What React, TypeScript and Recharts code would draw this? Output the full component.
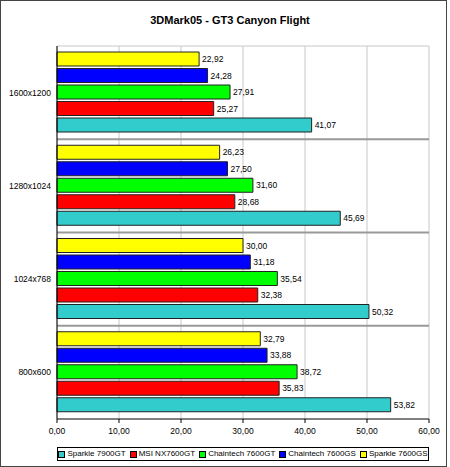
import React from "react";
import {
  BarChart,
  Bar,
  XAxis,
  YAxis,
  CartesianGrid,
  LabelList,
} from "recharts";

const categories = ["1600x1200", "1280x1024", "1024x768", "800x600"];
const sparkle7900gt = [41.07, 45.69, 50.32, 53.82];
const msi7600gt = [25.27, 28.68, 32.38, 35.83];
const chaintech7600gt = [27.91, 31.6, 35.54, 38.72];
const chaintech7600gs = [24.28, 27.5, 31.18, 33.88];
const sparkle7600gs = [22.92, 26.23, 30.0, 32.79];
const xTicks = [0, 10, 20, 30, 40, 50, 60];

// legend order (Excel draws first series at the bottom of each group)
const series = [
  { key: "s7900gt", name: "Sparkle 7900GT", color: "#33CCCC", values: sparkle7900gt },
  { key: "msi7600gt", name: "MSI NX7600GT", color: "#FF0000", values: msi7600gt },
  { key: "c7600gt", name: "Chaintech 7600GT", color: "#00FF00", values: chaintech7600gt },
  { key: "c7600gs", name: "Chaintech 7600GS", color: "#0000FF", values: chaintech7600gs },
  { key: "s7600gs", name: "Sparkle 7600GS", color: "#FFFF00", values: sparkle7600gs },
];

const data = categories.map((res, i) => {
  const row: Record<string, string | number> = { res };
  series.forEach((s) => (row[s.key] = s.values[i]));
  return row;
});

const font = '"Liberation Sans", Arial, sans-serif';
const fmt = (v: any) => Number(v).toFixed(2).replace(".", ",");

export default function App() {
  return (
    <div
      style={{
        position: "absolute",
        left: 0,
        top: 0,
        width: 450,
        height: 467,
        background: "#fff",
        fontFamily: font,
      }}
    >
      <div
        style={{
          position: "absolute",
          left: 130,
          top: 14,
          width: 200,
          textAlign: "center",
          fontWeight: "bold",
          fontSize: 11,
          color: "#000",
        }}
      >
        3DMark05 - GT3 Canyon Flight
      </div>

      <BarChart
        width={450}
        height={467}
        data={data}
        layout="vertical"
        margin={{ top: 46, right: 21, bottom: 28, left: 0 }}
        barCategoryGap={6}
        barGap={2.5}
        style={{ fontFamily: font }}
      >
        <CartesianGrid vertical horizontal={false} stroke="#c8c8c8" />
        <CartesianGrid
          vertical={false}
          stroke="#c8c8c8"
          horizontalCoordinatesGenerator={({ offset }: any) => [offset.top]}
        />
        <CartesianGrid
          vertical={false}
          stroke="#999"
          strokeWidth={2}
          horizontalCoordinatesGenerator={({ offset }: any) =>
            categories
              .slice(1)
              .map((_, i) => offset.top + (offset.height * (i + 1)) / categories.length)
          }
        />
        <XAxis
          type="number"
          domain={[0, 60]}
          ticks={xTicks}
          tickFormatter={fmt}
          height={20}
          tickSize={4}
          tickMargin={5}
          axisLine={{ stroke: "#000" }}
          tickLine={{ stroke: "#000" }}
          tick={{ fontSize: 8.5, fill: "#000" }}
        />
        <YAxis
          type="category"
          dataKey="res"
          width={57}
          tickLine={false}
          tickSize={0}
          tickMargin={6}
          axisLine={{ stroke: "#000" }}
          tick={{ fontSize: 8.5, fill: "#000" }}
        />
        {[...series].reverse().map((s) => (
          <Bar
            key={s.key}
            dataKey={s.key}
            name={s.name}
            fill={s.color}
            stroke="#222"
            strokeWidth={1}
            isAnimationActive={false}
          >
            <LabelList
              dataKey={s.key}
              position="right"
              offset={3}
              formatter={fmt}
              style={{ fontSize: 8.5, fill: "#000" }}
            />
          </Bar>
        ))}
      </BarChart>

      <div
        style={{
          position: "absolute",
          left: 57,
          top: 447,
          width: 372,
          height: 14,
          boxSizing: "border-box",
          border: "1px solid #000",
          display: "flex",
          alignItems: "center",
          justifyContent: "center",
          gap: 4,
          fontSize: 8,
          lineHeight: "10px",
          color: "#000",
          whiteSpace: "nowrap",
        }}
      >
        {series.map((s) => (
          <div
            key={s.key}
            style={{ display: "flex", alignItems: "center", flexShrink: 0 }}
          >
            <span
              style={{
                display: "inline-block",
                width: 5,
                height: 5,
                background: s.color,
                border: "1px solid #000",
                marginRight: 2,
              }}
            />
            <span>{s.name}</span>
          </div>
        ))}
      </div>

      <div
        style={{
          position: "absolute",
          left: 0,
          top: 0,
          width: 447,
          height: 467,
          boxSizing: "border-box",
          border: "1.5px solid #444",
          pointerEvents: "none",
        }}
      />
    </div>
  );
}
